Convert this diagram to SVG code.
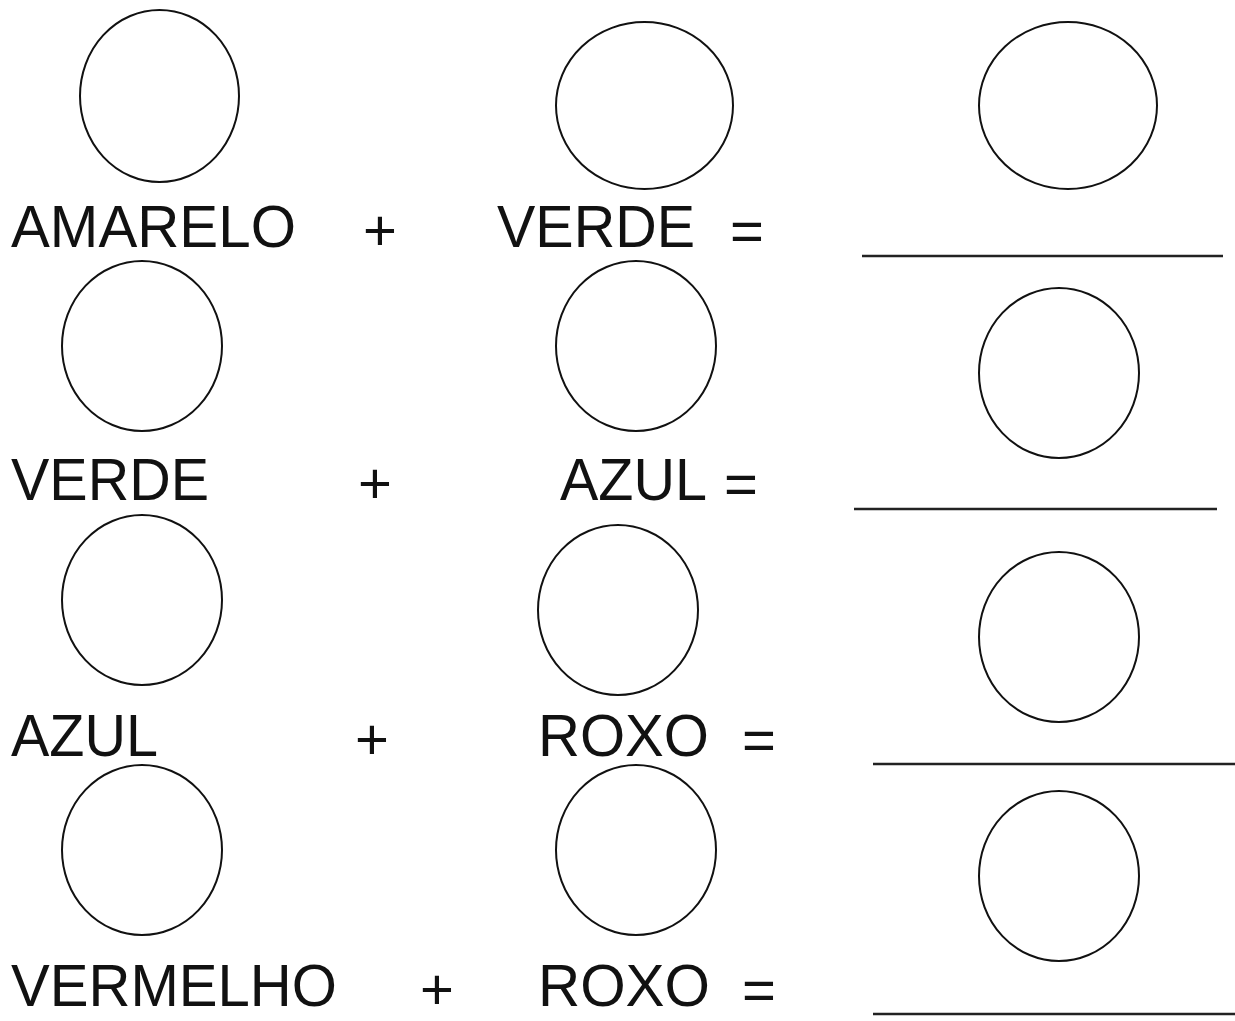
<svg xmlns="http://www.w3.org/2000/svg" width="1235" height="1021" viewBox="0 0 1235 1021">
<style>
.c{fill:none;stroke:#111;stroke-width:2}
.t{font-family:"Liberation Sans",Arial,sans-serif;font-size:59px;fill:#111}
.n{font-family:"Liberation Sans",Arial,sans-serif;font-size:58px;fill:#111}
.l{stroke:#222;stroke-width:2.5}
</style>
<rect width="1235" height="1021" fill="#fff"/>
<g id="row1">
<ellipse class="c" cx="159.5" cy="96" rx="79.5" ry="86"/>
<ellipse class="c" cx="644.5" cy="105.5" rx="88.5" ry="83.5"/>
<ellipse class="c" cx="1068" cy="105.5" rx="89" ry="83.5"/>
<text class="t" x="11" y="247" textLength="285" lengthAdjust="spacingAndGlyphs">AMARELO</text>
<text class="n" x="363" y="250">+</text>
<text class="t" x="497" y="247" textLength="198" lengthAdjust="spacingAndGlyphs">VERDE</text>
<text class="n" x="730" y="251">=</text>
<line class="l" x1="862" y1="256" x2="1223" y2="256"/>
</g>
<g id="row2">
<ellipse class="c" cx="142" cy="346" rx="80" ry="85"/>
<ellipse class="c" cx="636" cy="346" rx="80" ry="85"/>
<ellipse class="c" cx="1059" cy="373" rx="80" ry="85"/>
<text class="t" x="11" y="500" textLength="198" lengthAdjust="spacingAndGlyphs">VERDE</text>
<text class="n" x="358" y="503">+</text>
<text class="t" x="560" y="500" textLength="147" lengthAdjust="spacingAndGlyphs">AZUL</text>
<text class="n" x="724" y="504">=</text>
<line class="l" x1="854" y1="509" x2="1217" y2="509"/>
</g>
<g id="row3">
<ellipse class="c" cx="142" cy="600" rx="80" ry="85"/>
<ellipse class="c" cx="618" cy="610" rx="80" ry="85"/>
<ellipse class="c" cx="1059" cy="637" rx="80" ry="85"/>
<text class="t" x="11" y="756" textLength="147" lengthAdjust="spacingAndGlyphs">AZUL</text>
<text class="n" x="355" y="759">+</text>
<text class="t" x="538" y="756" textLength="171" lengthAdjust="spacingAndGlyphs">ROXO</text>
<text class="n" x="742" y="760">=</text>
<line class="l" x1="873" y1="764" x2="1235" y2="764"/>
</g>
<g id="row4">
<ellipse class="c" cx="142" cy="850" rx="80" ry="85"/>
<ellipse class="c" cx="636" cy="850" rx="80" ry="85"/>
<ellipse class="c" cx="1059" cy="876" rx="80" ry="85"/>
<text class="t" x="11" y="1006" textLength="326" lengthAdjust="spacingAndGlyphs">VERMELHO</text>
<text class="n" x="420" y="1009">+</text>
<text class="t" x="538" y="1006" textLength="172" lengthAdjust="spacingAndGlyphs">ROXO</text>
<text class="n" x="742" y="1010">=</text>
<line class="l" x1="873" y1="1014" x2="1235" y2="1014"/>
</g>
<g id="connectors"/>
</svg>
